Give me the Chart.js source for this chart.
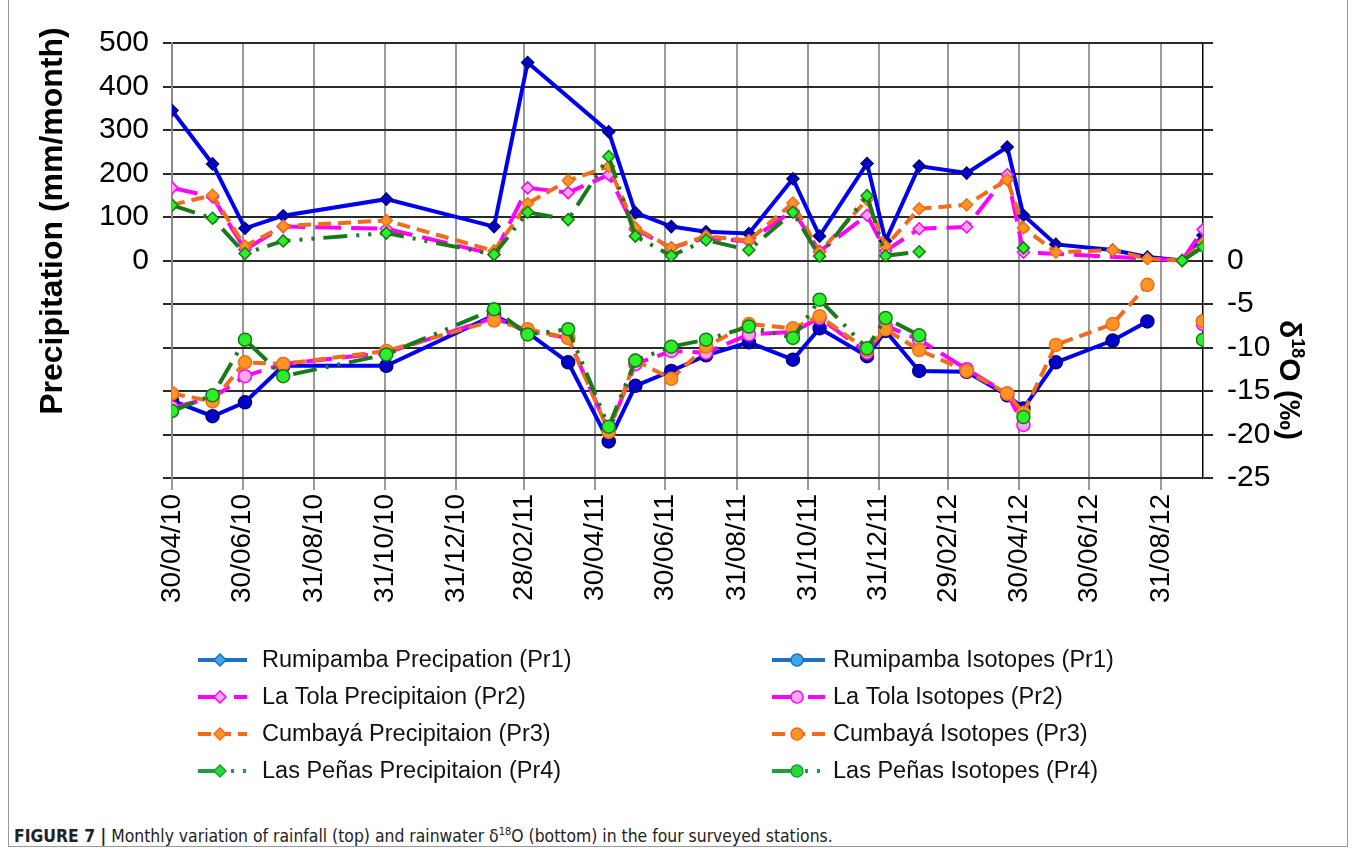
<!DOCTYPE html>
<html>
<head>
<meta charset="utf-8">
<script src="https://cdn.jsdelivr.net/npm/chart.js@4.4.0/dist/chart.umd.min.js"></script>
<style>
  body { margin: 0; background: #fff; width: 1357px; height: 856px; position: relative; overflow: hidden; }
  #frame { position: absolute; left: 8px; top: -2px; width: 1340px; height: 849px; border: 1px solid #9a9a9a; box-sizing: border-box; }
  #chart { position: absolute; left: 0; top: 0; }
  #caption { position: absolute; left: 14px; top: 825px; font-family: "Liberation Sans Narrow", "DejaVu Sans Condensed", "Liberation Sans", sans-serif; font-size: 17.4px; color: #222; white-space: nowrap; }
  #caption b { font-weight: bold; }
</style>
</head>
<body>
<div id="frame"></div>
<canvas id="chart" width="1357" height="810"></canvas>
<div id="caption"><b>FIGURE 7 |</b> Monthly variation of rainfall (top) and rainwater &#948;<sup style="font-size:11px">18</sup>O (bottom) in the four surveyed stations.</div>
<script>
const sampleDates = ['2010-04-30', '2010-06-04', '2010-07-02', '2010-08-04', '2010-11-01', '2011-02-02',
    '2011-03-03', '2011-04-07', '2011-05-12', '2011-06-04', '2011-07-05', '2011-08-04', '2011-09-10',
    '2011-10-18', '2011-11-10', '2011-12-21', '2012-01-06', '2012-02-04', '2012-03-16', '2012-04-20',
    '2012-05-04', '2012-06-01', '2012-07-20', '2012-08-19', '2012-09-18', '2012-10-06'];

// precipitation, mm/month
const rumiPrecip = [345, 222, 74, 103, 141, 78, 455, null, 296, 110, 78, 66, 62, 188, 56, 223, 45, 217, 201, 261, 104, 37, 24, 8, 0, 58];
const tolaPrecip = [167, 146, 25, 78, 73, 14, 167, 156, 197, 71, 29, 52, 44, 115, 21, 104, 22, 73, 77, 197, 19, null, null, null, 0, 71];
const cumbPrecip = [128, 150, 33, 79, 92, 22, 131, 184, 216, 75, 29, 56, 46, 132, 19, 140, 33, 119, 128, 186, 75, 19, 24, 4, 0, 41];
const penasPrecip = [127, 97, 16, 45, 63, 14, 111, 94, 239, 56, 11, 47, 24, 111, 10, 149, 11, 20, null, null, 29, null, null, null, 0, 31];

// delta 18O, permil
const rumiIso = [-16.1, -17.9, -16.3, -12.1, -12.1, -6.3, -8.3, -11.7, -20.8, -14.4, -12.7, -10.9, -9.4, -11.4, -7.8, -11.0, -8.1, -12.7, -12.8, -15.5, -17.0, -11.7, -9.2, -7.0, null, -7.0];
const tolaIso = [-16.9, -15.8, -13.3, -11.9, -10.6, -6.6, -8.1, -8.9, -19.6, -11.9, -10.4, -10.6, -8.5, -8.2, -6.6, -10.6, -7.5, -9.1, -12.5, -15.3, -18.9, null, null, null, null, -7.3];
const cumbIso = [-15.3, -16.2, -11.7, -11.9, -10.4, -6.9, -7.9, -8.9, -19.7, -11.5, -13.6, -9.9, -7.3, -7.8, -6.4, -10.3, -7.9, -10.3, -12.7, -15.3, -17.5, -9.7, -7.3, -2.8, null, -7.0];
const penasIso = [-17.3, -15.5, -9.1, -13.3, -10.8, -5.6, -8.5, -7.9, -19.1, -11.5, -9.9, -9.1, -7.6, -8.9, -4.5, -10.1, -6.6, -8.6, null, null, -18.0, null, null, null, null, -9.1];

const tickDates = ['2010-04-30', '2010-06-30', '2010-08-31', '2010-10-31', '2010-12-31', '2011-02-28',
    '2011-04-30', '2011-06-30', '2011-08-31', '2011-10-31', '2011-12-31', '2012-02-29',
    '2012-04-30', '2012-06-30', '2012-08-31'];

const FONT = '"Liberation Sans", Arial, sans-serif';

function dayOf(s) {
    const p = s.split('-');
    return (Date.UTC(+p[0], +p[1] - 1, +p[2]) - Date.UTC(2010, 3, 30)) / 86400000;
}
function label(s) {
    const p = s.split('-');
    return p[2] + '/' + p[1] + '/' + p[0].slice(2);
}

const styles = {
    rumi:  { line: '#0000f0', fill: '#0000c8', edge: '#00007a', dash: [], legLine: '#1f6fc8', legFill: '#3da5ea' },
    tola:  { line: '#ff00ff', fill: '#f6a8e8', edge: '#ff00ff', dash: [26, 10], legLine: '#ff00ff', legFill: '#f6a8e8' },
    cumb:  { line: '#f26a1b', fill: '#ff9326', edge: '#ee7018', dash: [13, 7], legLine: '#f26a1b', legFill: '#ff9326' },
    penas: { line: '#187a18', fill: '#2bef2b', edge: '#157a15', dash: [24, 9, 3, 9, 3, 9], legLine: '#1e9e3e', legFill: '#22dd33' }
};

function series(name, values, st, axis, span) {
    const isPrecip = axis === 'y';
    return {
        label: name,
        data: sampleDates.map((d, i) => ({ x: dayOf(d), y: values[i] })),
        yAxisID: axis,
        borderColor: st.line,
        borderWidth: 4,
        borderDash: st.dash,
        backgroundColor: st.fill,
        pointStyle: isPrecip ? 'rectRot' : 'circle',
        pointRadius: isPrecip ? 6 : 6.5,
        pointBackgroundColor: st.fill,
        pointBorderColor: st.edge,
        pointBorderWidth: 1.5,
        spanGaps: span,
        tension: 0,
        legLine: st.legLine,
        legFill: st.legFill
    };
}

const datasets = [
    series('Rumipamba Precipation (Pr1)', rumiPrecip, styles.rumi, 'y', true),
    series('La Tola Precipitaion (Pr2)', tolaPrecip, styles.tola, 'y', true),
    series('Cumbayá Precipitaion (Pr3)', cumbPrecip, styles.cumb, 'y', true),
    series('Las Peñas Precipitaion (Pr4)', penasPrecip, styles.penas, 'y', false),
    series('Rumipamba Isotopes (Pr1)', rumiIso, styles.rumi, 'y2', false),
    series('La Tola Isotopes (Pr2)', tolaIso, styles.tola, 'y2', false),
    series('Cumbayá Isotopes (Pr3)', cumbIso, styles.cumb, 'y2', false),
    series('Las Peñas Isotopes (Pr4)', penasIso, styles.penas, 'y2', false)
];
// later series sit on top, like the original
datasets.forEach((ds, i) => { ds.order = datasets.length - i; });

function drawMarker(ctx, style, x, y, r, fill, edge) {
    ctx.beginPath();
    if (style === 'rectRot') {
        ctx.moveTo(x, y - r); ctx.lineTo(x + r, y); ctx.lineTo(x, y + r); ctx.lineTo(x - r, y); ctx.closePath();
    } else {
        ctx.arc(x, y, r, 0, Math.PI * 2);
    }
    ctx.fillStyle = fill;
    ctx.fill();
    ctx.lineWidth = 1.5;
    ctx.strokeStyle = edge;
    ctx.stroke();
}

const overlay = {
    id: 'overlay',
    afterDraw(chart) {
        const ctx = chart.ctx;
        // left axis title
        ctx.save();
        ctx.fillStyle = '#000';
        ctx.font = 'bold 32px ' + FONT;
        ctx.textAlign = 'center';
        ctx.textBaseline = 'middle';
        ctx.translate(53, 221);
        ctx.rotate(-Math.PI / 2);
        ctx.fillText('Precipitation (mm/month)', 0, 0);
        ctx.restore();

        // right axis title, delta 18O
        ctx.save();
        ctx.fillStyle = '#000';
        ctx.translate(1280, 380);
        ctx.rotate(Math.PI / 2);
        ctx.textBaseline = 'alphabetic';
        ctx.textAlign = 'left';
        const big = 'bold 30px ' + FONT, small = 'bold 18px ' + FONT;
        ctx.font = big; const w1 = ctx.measureText('δ').width; const w3 = ctx.measureText('O (‰)').width;
        ctx.font = small; const w2 = ctx.measureText('18').width;
        let x0 = -(w1 + w2 + w3) / 2;
        ctx.font = big; ctx.fillText('δ', x0, 0);
        ctx.font = small; ctx.fillText('18', x0 + w1, -12);
        ctx.font = big; ctx.fillText('O (‰)', x0 + w1 + w2, 0);
        ctx.restore();

        // legend, two columns
        const cols = [{ a: 198, b: 247, m: 220, t: 262 }, { a: 772, b: 825, m: 797, t: 833 }];
        chart.data.datasets.forEach((ds, i) => {
            const c = cols[i < 4 ? 0 : 1];
            const y = 660 + (i % 4) * 37;
            ctx.save();
            ctx.strokeStyle = ds.legLine;
            ctx.lineWidth = 4;
            ctx.setLineDash(ds.borderDash);
            ctx.beginPath();
            ctx.moveTo(c.a, y); ctx.lineTo(c.b, y);
            ctx.stroke();
            ctx.setLineDash([]);
            drawMarker(ctx, ds.pointStyle, c.m, y, 6, ds.legFill, ds.legLine);
            ctx.fillStyle = '#111';
            ctx.font = '23.5px ' + FONT;
            ctx.textBaseline = 'middle';
            ctx.fillText(ds.label, c.t, y + 1);
            ctx.restore();
        });
    }
};

new Chart(document.getElementById('chart'), {
    type: 'line',
    data: { datasets: datasets },
    options: {
        responsive: false,
        animation: false,
        layout: { padding: { top: 43, left: 0, right: 0, bottom: 0 } },
        plugins: { legend: { display: false }, tooltip: { enabled: false } },
        scales: {
            x: {
                type: 'linear',
                min: dayOf(sampleDates[0]),
                max: dayOf(sampleDates[sampleDates.length - 1]),
                afterBuildTicks: (s) => { s.ticks = tickDates.map(d => ({ value: dayOf(d) })); },
                afterFit: (s) => { s.height = 810 - 478; },
                ticks: {
                    autoSkip: false,
                    minRotation: 90,
                    maxRotation: 90,
                    padding: 4,
                    color: '#000',
                    font: { family: FONT, size: 28 },
                    callback: (v) => { const d = tickDates.find(t => dayOf(t) === v); return d ? label(d) : ''; }
                },
                grid: { color: '#9a9a9a', lineWidth: 2, tickLength: 12 },
                border: { display: false }
            },
            y: {
                position: 'left',
                min: -500,
                max: 500,
                afterFit: (s) => { s.width = 172; },
                ticks: {
                    stepSize: 100,
                    padding: 14,
                    color: '#000',
                    font: { family: FONT, size: 30 },
                    callback: (v) => v >= 0 ? v : ''
                },
                grid: { color: '#2a2a2a', lineWidth: 2, tickLength: 9 },
                border: { color: '#8a8a8a', width: 2 }
            },
            y2: {
                position: 'right',
                min: -25,
                max: 25,
                afterFit: (s) => { s.width = 1357 - 1203; },
                ticks: {
                    stepSize: 5,
                    padding: 14,
                    color: '#000',
                    font: { family: FONT, size: 30 },
                    callback: (v) => v <= 0 ? v : ''
                },
                grid: { drawOnChartArea: false, color: '#2a2a2a', lineWidth: 2, tickLength: 10 },
                border: { color: '#000', width: 1.5 }
            }
        }
    },
    plugins: [overlay]
});
</script>
</body>
</html>
